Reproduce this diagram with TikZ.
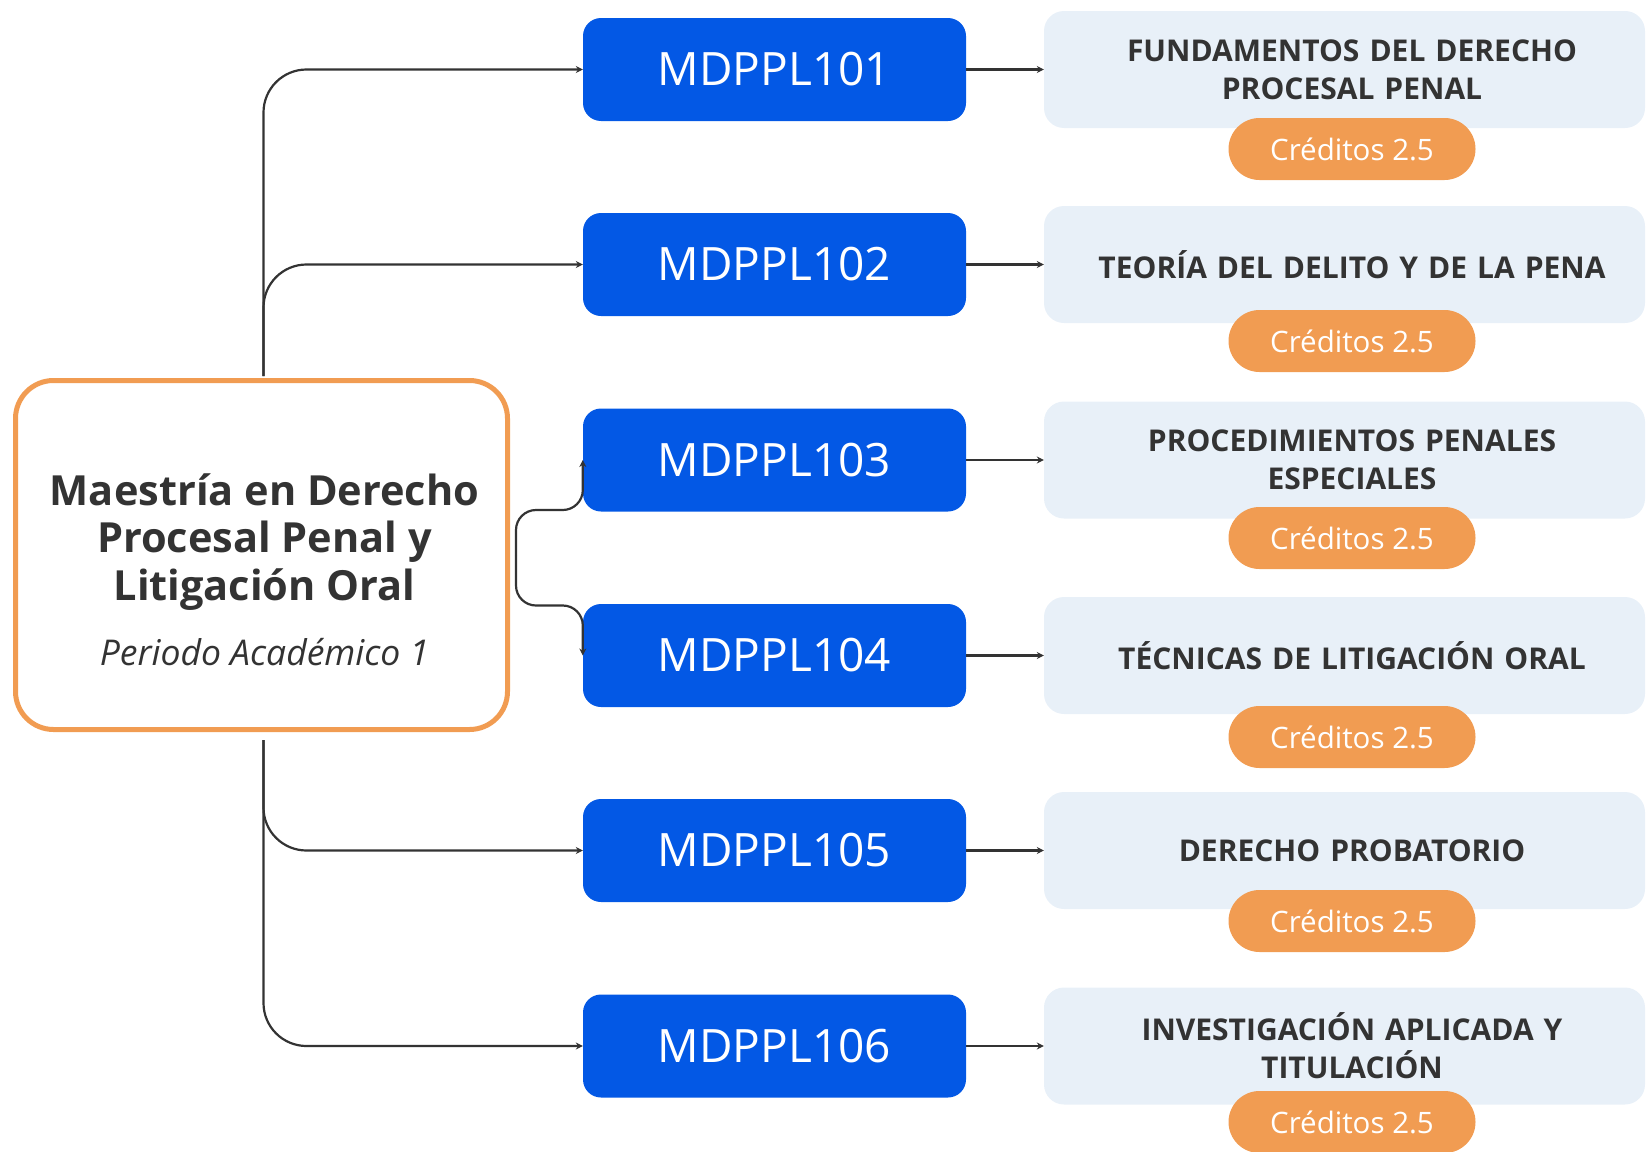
\documentclass[tikz,border=0pt]{standalone}
\usepackage{fontspec}
\setmainfont{Open Sans}
\usetikzlibrary{arrows.meta}

\definecolor{codeBlue}{RGB}{3,88,229}
\definecolor{creditOrange}{RGB}{241,156,82}
\definecolor{titleGrey}{RGB}{232,240,248}
\definecolor{inkGrey}{RGB}{51,51,51}

\tikzset{
	mainbox/.style={draw=creditOrange, line width=5pt, rounded corners=38pt, fill=white, minimum width=492pt, minimum height=349pt},
	maintext/.style={align=center, text=inkGrey, inner sep=0pt, font=\bfseries\fontsize{41.5}{47.5}\selectfont},
	codebox/.style={fill=codeBlue, rounded corners=18pt, minimum width=383pt, minimum height=103pt, text=white, font=\fontsize{46}{55}\selectfont},
	titlebox/.style={fill=titleGrey, rounded corners=20pt, minimum width=601pt, minimum height=117pt, text width=571pt, inner xsep=15pt, align=center, text=inkGrey, font=\bfseries\fontsize{30}{38}\selectfont,
		execute at begin node={\leftskip=15pt plus 1fil\rightskip=0pt plus 1fil}},
	creditpill/.style={fill=creditOrange, rounded corners=31pt, minimum width=247pt, minimum height=62pt, text=white, font=\fontsize{29.5}{36}\selectfont},
	conn/.style={draw=inkGrey, line width=2.2pt, -{Stealth[length=7pt,width=7pt]}}
}

\begin{document}
\begin{tikzpicture}[x=1pt, y=-1pt]

	\useasboundingbox (0,0) rectangle (1646,1151);

% Programme box.

	\node[mainbox] (main) at (261.5, 555) {};
	\node[maintext] (mainTitle) at (264.5, 570) {Maestría en Derecho\\Procesal Penal y\\Litigación Oral\\[18pt]{\mdseries\itshape\fontsize{35.5}{42}\selectfont Periodo Académico 1}};

	%branch points
	\coordinate (trunkN) at ([xshift=2pt, yshift=2pt]main.north);
	\coordinate (trunkS) at ([xshift=2pt, yshift=-8pt]main.south);
	\coordinate (split) at ([xshift=6pt]main.east);

% Course rows.

	\foreach \n/\yrow/\ypill/\subject in {
		1/69.5/149/{FUNDAMENTOS DEL DERECHO\\PROCESAL PENAL},
		2/264.5/341/{TEORÍA DEL DELITO Y DE LA PENA},
		3/460/538/{PROCEDIMIENTOS PENALES\\ESPECIALES},
		4/655.5/737/{TÉCNICAS DE LITIGACIÓN ORAL},
		5/850.5/921/{DERECHO PROBATORIO},
		6/1046/1122/{INVESTIGACIÓN APLICADA Y\\TITULACIÓN}}
	{
		\node[codebox] (c10\n) at (774.5, \yrow) {MDPPL10\n};
		\node[titlebox] (t10\n) at (1344.5, \yrow) {\subject};
		\node[creditpill] (k10\n) at (1352, \ypill) {Créditos 2.5};
		\draw[conn] (c10\n) -- (t10\n);
	}

% Draw branches.

	\draw[conn, rounded corners=43pt] (trunkN) |- (c101);
	\draw[conn, rounded corners=43pt] (trunkN) |- (c102);

	\draw[conn, rounded corners=20pt] (split) |- ([yshift=-50pt]c103.west) -- (c103.west);
	\draw[conn, rounded corners=20pt] (split) |- ([yshift=50pt]c104.west) -- (c104.west);

	\draw[conn, rounded corners=43pt] (trunkS) |- (c105);
	\draw[conn, rounded corners=43pt] (trunkS) |- (c106);

\end{tikzpicture}
\end{document}
